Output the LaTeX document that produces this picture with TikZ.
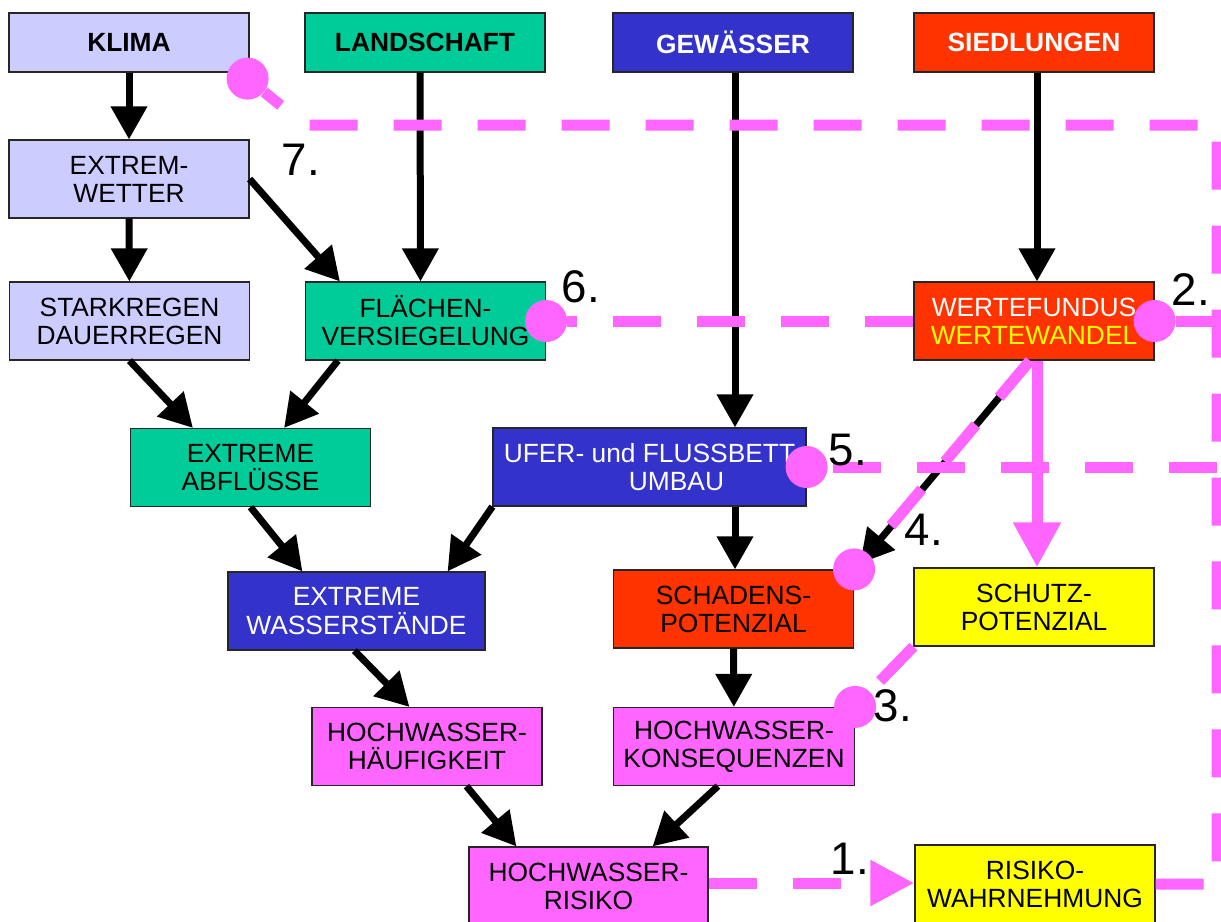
\documentclass[tikz,border=0pt]{standalone}
\usepackage{fontspec}
\setmainfont{Liberation Sans}
\usetikzlibrary{positioning, arrows.meta, calc}

\definecolor{klimacol}{HTML}{CCCCFF}
\definecolor{landcol}{HTML}{00CC99}
\definecolor{watercol}{HTML}{3333CC}
\definecolor{siedcol}{HTML}{FF3300}
\definecolor{schutzcol}{HTML}{FFFF00}
\definecolor{linkpink}{HTML}{FF66FF}

\tikzset{
  box/.style={draw=black!85, line width=0.7pt, minimum width=4.8cm, minimum height=1.56cm,
    inner sep=0pt, align=center, font=\fontsize{15}{16}\selectfont},
  titlebox/.style={box, minimum height=1.18cm, font=\bfseries\fontsize{15}{16}\selectfont},
  flow/.style={draw=black, line width=0.14cm, -{Triangle[width=0.7cm,length=0.66cm]}},
  link/.style={draw=linkpink, line width=0.22cm, dash pattern=on 0.96cm off 0.72cm},
  pinkflow/.style={draw=linkpink, line width=0.22cm, -{Triangle[width=0.9cm,length=0.9cm]}},
  dot/.style={circle, fill=linkpink, minimum size=0.84cm, inner sep=0pt},
  num/.style={inner sep=0pt, font=\fontsize{26}{26}\selectfont},
}

\begin{document}
\begin{tikzpicture}[x=0.02cm, y=-0.02cm]
\useasboundingbox (0,0) rectangle (1221,921);
\clip (0,0) rectangle (1221,921);

\node (klima) [titlebox, fill=klimacol] at (129,42.5) {KLIMA};
\node (landschaft) [titlebox, fill=landcol] at (425,42.5) {LANDSCHAFT};
\node (gewaesser) [titlebox, fill=watercol, text=white] at (733,42.5) {GEWÄSSER};
\node (siedlung) [titlebox, fill=siedcol, text=white] at (1034,42.5) {SIEDLUNGEN};

\node (wetter) [box, fill=klimacol] at (129,179) {EXTREM-\\WETTER};
\node (stark) [box, fill=klimacol] at (129.5,321) {STARKREGEN\\DAUERREGEN};
\node (flaechen) [box, fill=landcol] at (425.5,321) {FLÄCHEN-\\VERSIEGELUNG};
\node (werte) [box, fill=siedcol, text=white] at (1034,321)
  {WERTEFUNDUS\\\textcolor{schutzcol}{WERTEWANDEL}};

\node (abfl) [box, fill=landcol] at (250.5,467.5) {EXTREME\\ABFLÜSSE};
\node (ufer) [box, fill=watercol, text=white, minimum width=6.26cm] at (649.5,467)
  {UFER- und FLUSSBETT\\\hspace*{1.08cm}UMBAU};

\node (wasser) [box, fill=watercol, text=white, minimum width=5.14cm] at (356.5,611)
  {EXTREME\\WASSERSTÄNDE};
\node (schaden) [box, fill=siedcol] at (733.5,609) {SCHADENS-\\POTENZIAL};
\node (schutz) [box, fill=schutzcol] at (1034,607) {SCHUTZ-\\POTENZIAL};

\node (haeuf) [box, fill=linkpink, minimum width=4.6cm] at (427,746.5) {HOCHWASSER-\\HÄUFIGKEIT};
\node (konseq) [box, fill=linkpink, minimum width=4.82cm] at (734,746.5) {HOCHWASSER-\\KONSEQUENZEN};

\node (risiko) [box, fill=linkpink, minimum width=4.78cm] at (588.5,886) {HOCHWASSER-\\RISIKO};
\node (wahrn) [box, fill=schutzcol] at (1035,884) {RISIKO-\\WAHRNEHMUNG};

\draw [flow] (klima) -- (wetter);
\draw [flow] (wetter) -- (stark);
\draw [flow] (wetter.east) -- ($(flaechen.north west)+(35,0)$);
\draw [flow] ([xshift=-0.1cm]landschaft.south) -- ([xshift=-0.1cm]flaechen.north);
\draw [flow] ([xshift=0.04cm]gewaesser.south) -- ([xshift=0.04cm]gewaesser.south |- ufer.north);
\draw [flow] ([xshift=0.06cm]siedlung.south) -- ([xshift=0.06cm]werte.north);
\draw [flow] (stark.south) -- ($(abfl.north west)+(63,0)$);
\draw [flow] ($(flaechen.south west)+(33,0)$) -- ($(abfl.north east)+(-87,0)$);
\draw [flow] (abfl.south) -- ($(wasser.north west)+(75,0)$);
\draw [flow] (ufer.south west) -- ($(wasser.north east)+(-38,0)$);
\draw [flow] ([xshift=0.03cm]schaden.north |- ufer.south) -- ([xshift=0.03cm]schaden.north);
\draw [flow] ($(wasser.south west)+(127,0)$) -- ($(haeuf.north west)+(98,0)$);
\draw [flow] (schaden) -- (konseq);
\draw [flow] ($(haeuf.south west)+(155,0)$) -- ($(risiko.north west)+(48,0)$);
\draw [flow] ($(konseq.south west)+(105,0)$) -- ($(risiko.north east)+(-56,0)$);
\draw [flow] ([xshift=-0.08cm]werte.south) -- ($(schaden.north east)+(6,-6)$);

\node (d7) [dot] at ($(klima.south east)+(-2,6)$) {};
\node (d6) [dot] at (flaechen.east) {};
\node (d2) [dot] at (werte.east) {};
\node (d5) [dot] at (ufer.east) {};
\node (d4) [dot] at (schaden.north east) {};
\node (d3) [dot] at (konseq.north east) {};

\coordinate (c1) at (1217,884);
\coordinate (c2) at (1217,125);
\coordinate (c3) at (305,125);

\draw [pinkflow] ([xshift=0.06cm]werte.south) -- ([xshift=0.06cm]schutz.north);
\draw [link] (wahrn.east) -- (c1) -- (c2) -- (c3) -- (d7);
\draw [link] (werte.west) -- (d6);
\draw [link] (d2) -- (werte.east -| c1);
\draw [link] (ufer.east -| c1) -- (d5);
\draw [link] ([xshift=-0.08cm]werte.south) -- (d4);
\draw [link] (schutz.south west) -- (d3);
\draw [link, -{Triangle[width=0.86cm,length=0.88cm]}] ([yshift=0.06cm]risiko.east) -- ([yshift=0.06cm]risiko.east -| wahrn.west);

\node (n7) [num] at (301,160) {7.};
\node (n6) [num] at (581,287) {6.};
\node (n2) [num] at (1191,290) {2.};
\node (n5) [num] at (848,450) {5.};
\node (n4) [num] at (924,530) {4.};
\node (n3) [num] at (893,706) {3.};
\node (n1) [num] at (850,859) {1.};
\end{tikzpicture}
\end{document}
